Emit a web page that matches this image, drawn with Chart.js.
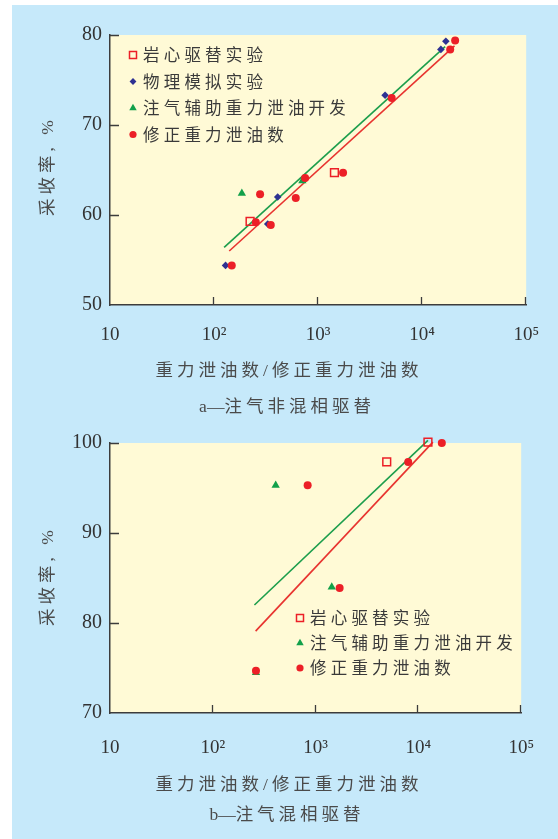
<!DOCTYPE html>
<html lang="zh">
<head>
<meta charset="UTF-8">
<title>采收率与重力泄油数</title>
<script src="https://cdn.jsdelivr.net/npm/chart.js@4.4.1/dist/chart.umd.min.js"></script>
<style>
  html, body { margin: 0; padding: 0; background: #fff; }
  body { width: 558px; height: 839px; position: relative; overflow: hidden; }
  #bg { position: absolute; left: 12px; top: 5px; right: 0; bottom: 0; background: #c6e9fa; }
  canvas { position: absolute; left: 0; }
  .t { position: absolute; white-space: nowrap; color: #4a4a4a; font-size: 17.5px; line-height: 20px;
       font-family: "Liberation Serif", "Noto Sans CJK SC", serif; letter-spacing: 4px;
       transform: translate(-50%, -50%); }
  .t .l { letter-spacing: 0; }
  .yt { transform: translate(-50%, -50%) rotate(-90deg); }
</style>
</head>
<body>
<div id="bg"></div>
<canvas id="chartA" width="558" height="420" style="top:0"></canvas>
<canvas id="chartB" width="558" height="431" style="top:408px"></canvas>

<div class="t yt" style="left:47px; top:166px">采收率, %</div>
<div class="t" style="left:289px; top:370px">重力泄油数/修正重力泄油数</div>
<div class="t" style="left:287px; top:406px"><span class="l">a—</span>注气非混相驱替</div>

<div class="t yt" style="left:47px; top:576px">采收率, %</div>
<div class="t" style="left:289px; top:784px">重力泄油数/修正重力泄油数</div>
<div class="t" style="left:287px; top:814px"><span class="l">b—</span>注气混相驱替</div>

<script>
// x axis (log)
const xTickValues = [10, 100, 1000, 10000, 100000];
const xTickLabels = ['10', '10²', '10³', '10⁴', '10⁵'];

// a — 注气非混相驱替
const aCoreX = [222, 1436];
const aCoreY = [59.3, 64.7];
const aPhysX = [129, 328, 409, 4405, 15140, 16900];
const aPhysY = [54.4, 59.0, 62.0, 73.3, 78.4, 79.3];
const aGasX = [185, 706];
const aGasY = [62.4, 63.8];
const aModX = [148, 252, 277, 351, 610, 750, 1738, 5100, 18600, 20760];
const aModY = [54.4, 59.2, 62.3, 58.9, 61.9, 64.1, 64.7, 73.0, 78.4, 79.4];
const aGasFitX = [125, 16630];
const aGasFitY = [56.4, 78.7];
const aModFitX = [140, 20470];
const aModFitY = [56.0, 78.8];

// b — 注气混相驱替
const bCoreX = [4920, 12390];
const bCoreY = [97.9, 100.1];
const bGasX = [409, 1436, 263];
const bGasY = [95.3, 84.0, 74.5];
const bModX = [263, 837, 1714, 7960, 16900];
const bModY = [74.7, 95.3, 83.9, 97.9, 100.0];
const bGasFitX = [254, 12390];
const bGasFitY = [82.0, 100.3];
const bModFitX = [261, 13840];
const bModFitY = [79.1, 100.1];

const RED = '#ec1f27', RED_LINE = '#e8332f';
const GREEN = '#12a04a', GREEN_LINE = '#1c9e4c';
const BLUE = '#2e3192';
const AXIS = '#3c3c3c';
const PLOT_BG = '#fffad6';

function pts(xs, ys) {
  return xs.map((x, i) => ({ x: x, y: ys[i] }));
}

const core = (xs, ys) => ({ label: '岩心驱替实验', data: pts(xs, ys), pointStyle: 'rect', pointRadius: 5.5,
  backgroundColor: 'rgba(0,0,0,0)', borderColor: RED, borderWidth: 1.5, clip: false, order: 2 });
const phys = (xs, ys) => ({ label: '物理模拟实验', data: pts(xs, ys), pointStyle: 'rectRot', pointRadius: 3.8,
  backgroundColor: BLUE, borderColor: BLUE, borderWidth: 0, clip: false, order: 3 });
const gas = (xs, ys) => ({ label: '注气辅助重力泄油开发', data: pts(xs, ys), pointStyle: 'triangle', pointRadius: 4.8,
  backgroundColor: GREEN, borderColor: GREEN, borderWidth: 0, clip: false, order: 2 });
const mod = (xs, ys) => ({ label: '修正重力泄油数', data: pts(xs, ys), pointStyle: 'circle', pointRadius: 4,
  backgroundColor: RED, borderColor: RED, borderWidth: 0, clip: false, order: 1 });
const fit = (xs, ys, c) => ({ data: pts(xs, ys), showLine: true, borderColor: c, borderWidth: 1.6,
  pointRadius: 0, clip: false, order: 5 });

// yellow plot area
const plotBg = {
  id: 'plotBg',
  beforeDraw(chart) {
    const a = chart.chartArea, ctx = chart.ctx;
    ctx.save();
    ctx.fillStyle = PLOT_BG;
    ctx.fillRect(a.left, a.top, a.right - a.left, a.bottom - a.top);
    ctx.restore();
  }
};

// ticks pointing into the plot
const innerTicks = {
  id: 'innerTicks',
  afterDraw(chart) {
    const { ctx, chartArea: a, scales } = chart;
    ctx.save();
    ctx.strokeStyle = AXIS;
    ctx.lineWidth = 1.3;
    ctx.beginPath();
    scales.x.ticks.forEach((t, i) => {
      if (i === 0) return;
      const px = Math.round(scales.x.getPixelForValue(t.value)) - 0.5;
      ctx.moveTo(px, a.bottom);
      ctx.lineTo(px, a.bottom - 8);
    });
    scales.y.ticks.forEach((t, i) => {
      if (i === 0) return;
      const py = Math.round(scales.y.getPixelForValue(t.value)) + 0.5;
      ctx.moveTo(a.left, py);
      ctx.lineTo(a.left + 9, py);
    });
    ctx.stroke();
    ctx.restore();
  }
};

// legend drawn inside the plot
const inLegend = {
  id: 'inLegend',
  afterDraw(chart, args, opts) {
    if (!opts.items) return;
    const { ctx, chartArea: a } = chart;
    ctx.save();
    ctx.font = '16.5px "Noto Sans CJK SC"';
    ctx.textBaseline = 'middle';
    opts.items.forEach((idx, i) => {
      const ds = chart.data.datasets[idx];
      const x = a.left + opts.dx, y = a.top + opts.dy + i * opts.gap;
      ctx.fillStyle = ds.backgroundColor;
      ctx.strokeStyle = ds.borderColor;
      ctx.lineWidth = ds.borderWidth;
      Chart.helpers.drawPoint(ctx, { pointStyle: ds.pointStyle, radius: ds.pointRadius * 0.9,
        borderWidth: ds.borderWidth, rotation: 0 }, x, y);
      ctx.fillStyle = '#3a3a3a';
      let tx = x + 10;
      for (const ch of ds.label) {
        ctx.fillText(ch, tx, y);
        tx += ctx.measureText(ch).width + 4.2;
      }
    });
    ctx.restore();
  }
};

function options(yMin, yMax, xHeight, xPad, legend) {
  return {
    responsive: false,
    animation: false,
    devicePixelRatio: 1,
    layout: { padding: { top: 35, right: 28, left: 0, bottom: 0 } },
    plugins: { legend: { display: false }, tooltip: { enabled: false }, inLegend: legend },
    scales: {
      x: {
        type: 'logarithmic', min: 10, max: 100000,
        afterBuildTicks: s => { s.ticks = xTickValues.map(v => ({ value: v })); },
        afterFit: s => { s.height = xHeight; },
        ticks: {
          callback: (v, i) => xTickLabels[i],
          autoSkip: false, maxRotation: 0, padding: xPad,
          color: '#333', font: { family: 'Liberation Serif', size: 19 }
        },
        grid: { drawOnChartArea: false, drawTicks: false },
        border: { color: AXIS, width: 1.5 }
      },
      y: {
        min: yMin, max: yMax,
        afterFit: s => { s.width = 110; },
        ticks: {
          stepSize: 10, padding: 8,
          color: '#333', font: { family: 'Liberation Serif', size: 20 }
        },
        grid: { drawOnChartArea: false, drawTicks: false },
        border: { color: AXIS, width: 1.5 }
      }
    }
  };
}

new Chart(document.getElementById('chartA'), {
  type: 'scatter',
  data: {
    datasets: [
      core(aCoreX, aCoreY),
      phys(aPhysX, aPhysY),
      gas(aGasX, aGasY),
      mod(aModX, aModY),
      fit(aGasFitX, aGasFitY, GREEN_LINE),
      fit(aModFitX, aModFitY, RED_LINE)
    ]
  },
  options: options(50, 80, 115, 19, { items: [0, 1, 2, 3], dx: 23, dy: 20, gap: 26.5 }),
  plugins: [plotBg, innerTicks, inLegend]
});

new Chart(document.getElementById('chartB'), {
  type: 'scatter',
  data: {
    datasets: [
      core(bCoreX, bCoreY),
      gas(bGasX, bGasY),
      mod(bModX, bModY),
      fit(bGasFitX, bGasFitY, GREEN_LINE),
      fit(bModFitX, bModFitY, RED_LINE)
    ]
  },
  options: options(70, 100, 126, 24, { items: [0, 1, 2], dx: 190, dy: 175, gap: 25 }),
  plugins: [plotBg, innerTicks, inLegend]
});
</script>
</body>
</html>
